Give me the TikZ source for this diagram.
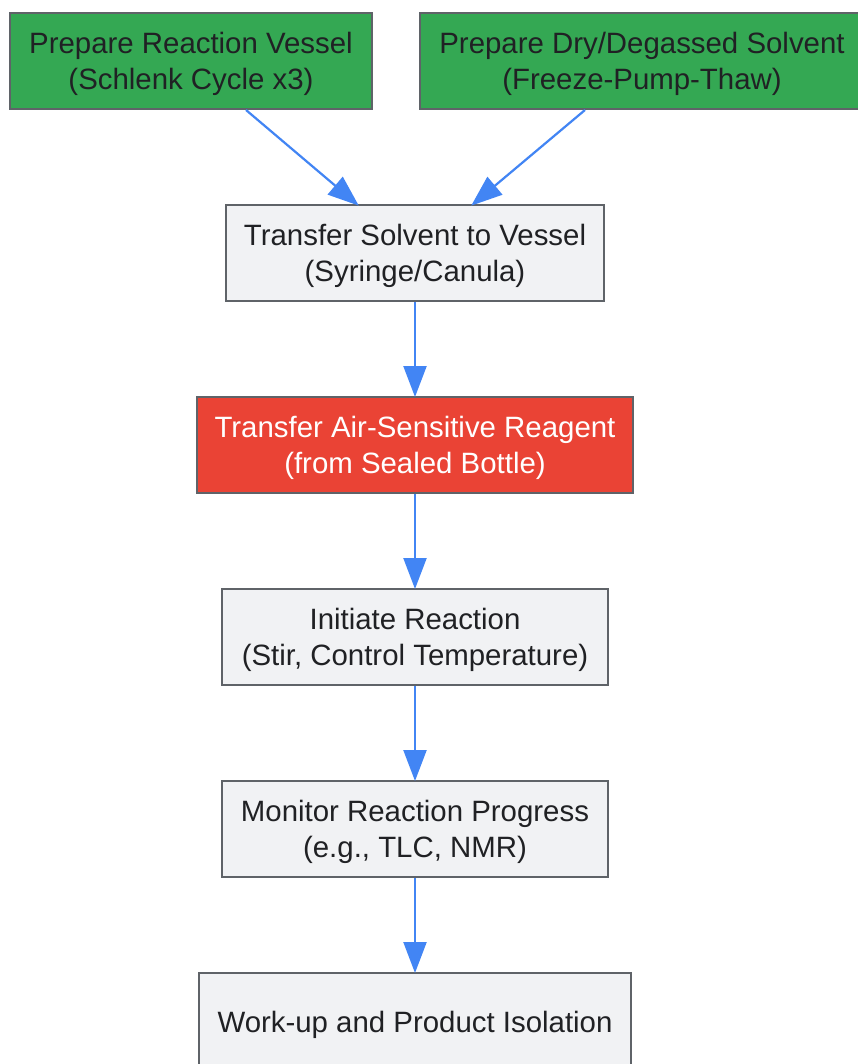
\documentclass[tikz,border=0pt]{standalone}
\usepackage{fontspec}
\setmainfont{Liberation Sans}
\usetikzlibrary{arrows.meta}
\definecolor{boxgreen}{HTML}{34A853}
\definecolor{boxred}{HTML}{EA4335}
\definecolor{boxgray}{HTML}{F1F2F4}
\definecolor{boxline}{HTML}{5F6368}
\definecolor{txt}{HTML}{202124}
\definecolor{arrowblue}{HTML}{4285F4}
\newcommand{\lowtext}[1]{\raisebox{-3.5pt}[\height][\depth]{\begin{tabular}{@{}c@{}}#1\end{tabular}}}
\begin{document}
\begin{tikzpicture}[x=1pt,y=-1pt,
  flowbox/.style={draw=boxline, line width=2pt, rectangle,
    inner sep=0pt, font=\fontsize{29.4}{36}\selectfont, text=txt},
  greenbox/.style={flowbox, fill=boxgreen},
  redbox/.style={flowbox, fill=boxred, text=white},
  graybox/.style={flowbox, fill=boxgray},
  flowarrow/.style={draw=arrowblue, line width=2.2pt,
    -{Triangle[length=31pt,width=23pt]}, shorten >=-1pt}
]
\useasboundingbox (0,0) rectangle (858,1064);
\clip (0,0) rectangle (858,1064);
\fill[white] (0,0) rectangle (858,1064);

\node[greenbox, minimum width=362pt, minimum height=96pt] (prep) at (191,61)
  {\lowtext{Prepare Reaction Vessel\\(Schlenk Cycle x3)}};
\node[greenbox, minimum width=444pt, minimum height=96pt] (solv) at (642,61)
  {\lowtext{Prepare Dry/Degassed Solvent\\(Freeze-Pump-Thaw)}};
\node[graybox, minimum width=378pt, minimum height=96pt] (trans) at (415,253)
  {\lowtext{Transfer Solvent to Vessel\\(Syringe/Canula)}};
\node[redbox, minimum width=436pt, minimum height=96pt] (reag) at (415,445)
  {\lowtext{Transfer Air-Sensitive Reagent\\(from Sealed Bottle)}};
\node[graybox, minimum width=386pt, minimum height=96pt] (init) at (415,637)
  {\lowtext{Initiate Reaction\\(Stir, Control Temperature)}};
\node[graybox, minimum width=386pt, minimum height=96pt] (mon) at (415,829)
  {\lowtext{Monitor Reaction Progress\\(e.g., TLC, NMR)}};
\node[graybox, minimum width=432pt, minimum height=98pt] (work) at (415,1022)
  {\lowtext{Work-up and Product Isolation}};

\coordinate (prepOut) at (246,110);
\coordinate (transInL) at (358,205);
\coordinate (solvOut) at (585,110);
\coordinate (transInR) at (472,205);
\draw[flowarrow] (prepOut) -- (transInL);
\draw[flowarrow] (solvOut) -- (transInR);
\draw[flowarrow] (trans.south) -- (reag.north);
\draw[flowarrow] (reag.south) -- (init.north);
\draw[flowarrow] (init.south) -- (mon.north);
\draw[flowarrow] (mon.south) -- (work.north);
\end{tikzpicture}
\end{document}
